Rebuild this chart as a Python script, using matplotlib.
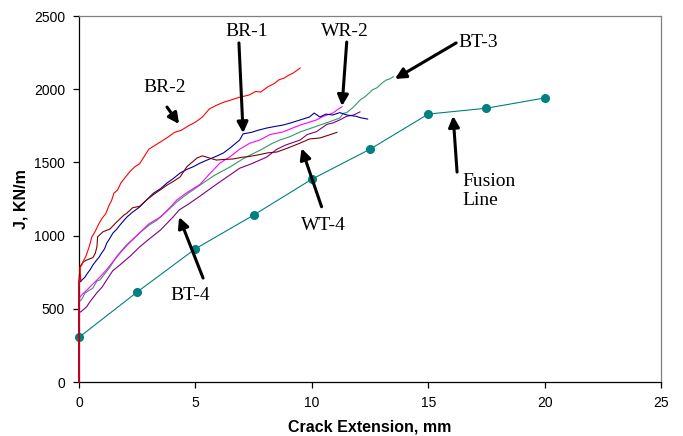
import matplotlib
matplotlib.use('Agg')
import matplotlib.pyplot as plt

# J-R curves, crack extension (mm) vs J (KN/m)
br2_x = [0, 0, 0.04, 0.08, 0.04, 0.12, 0.2, 0.3, 0.45, 0.55, 0.7, 0.85, 1.0, 1.15, 1.3, 1.4, 1.5, 1.65, 1.8,
         2.0, 2.2, 2.4, 2.6, 2.8, 3.0, 3.2, 3.5, 3.8, 4.1, 4.4, 4.7, 5.0, 5.3, 5.6, 5.9, 6.2, 6.5, 6.9, 7.3,
         7.6, 7.8, 8.1, 8.4, 8.6, 8.8, 9.0, 9.2, 9.5]
br2_j = [0, 650, 720, 690, 780, 800, 830, 860, 930, 990, 1030, 1080, 1120, 1150, 1210, 1240, 1290, 1310, 1360,
         1400, 1440, 1470, 1490, 1540, 1590, 1610, 1640, 1670, 1705, 1720, 1750, 1775, 1810, 1865, 1890, 1910,
         1925, 1945, 1960, 1985, 1980, 2015, 2040, 2065, 2075, 2095, 2110, 2145]

br1_x = [0, 0, 0.07, 0.15, 0.26, 0.35, 0.47, 0.6, 0.76, 0.85, 0.97, 1.1, 1.19, 1.3, 1.46, 1.6, 1.8, 2.06,
         2.3, 2.6, 2.9, 3.2, 3.5, 3.78, 4.05, 4.34, 4.6, 4.9, 5.2, 5.5, 5.8, 6.2, 6.5, 6.9, 7.05, 7.4, 7.7,
         8.07, 8.4, 8.76, 9.1, 9.5, 9.9, 10.1, 10.35, 10.6, 10.9, 11.2, 11.5, 11.9, 12.1, 12.4]
br1_j = [0, 690, 685, 700, 717, 740, 765, 800, 833, 850, 880, 910, 949, 975, 1018, 1040, 1080, 1127,
         1160, 1195, 1243, 1290, 1320, 1359, 1390, 1427, 1450, 1470, 1495, 1516, 1535, 1564, 1600, 1653, 1695,
         1705, 1720, 1735, 1745, 1755, 1770, 1790, 1810, 1837, 1810, 1830, 1824, 1840, 1824, 1815, 1805, 1796]

wt4_x = [0, 0, 0.05, 0.18, 0.33, 0.6, 0.7, 0.77, 0.8, 1.03, 1.33, 1.6, 1.93, 2.06, 2.3, 2.6, 2.9, 3.2,
         3.48, 3.78, 4.05, 4.34, 4.63, 4.85, 5.07, 5.3, 5.6, 5.9, 6.2, 6.6, 7.0, 7.3, 7.65, 8.1, 8.5, 9.0,
         9.5, 9.9, 10.35, 10.7, 11.08]
wt4_j = [0, 700, 790, 820, 833, 850, 880, 924, 992, 1026, 1045, 1090, 1140, 1154, 1190, 1200, 1243, 1280,
         1311, 1345, 1370, 1400, 1470, 1500, 1530, 1545, 1530, 1516, 1520, 1523, 1535, 1540, 1550, 1565, 1571,
         1600, 1632, 1660, 1667, 1685, 1705]

wr2_x = [0, 0, 0.04, 0.15, 0.34, 0.6, 0.9, 1.2, 1.5, 1.76, 2.1, 2.6, 3.0, 3.5, 3.9, 4.2, 4.6, 5.2, 5.6,
         6.05, 6.5, 6.9, 7.35, 7.77, 8.2, 8.76, 9.1, 9.5, 9.8, 10.2, 10.5, 10.9, 11.1, 11.3]
wr2_j = [0, 540, 580, 600, 628, 670, 717, 770, 830, 880, 940, 1018, 1080, 1127, 1190, 1243, 1290, 1350, 1420,
         1495, 1540, 1590, 1632, 1653, 1690, 1708, 1730, 1755, 1770, 1790, 1815, 1837, 1860, 1880]

bt3_x = [0, 0, 0.1, 0.26, 0.6, 0.77, 0.9, 1.33, 1.63, 2.0, 2.6, 3.0, 3.35, 3.8, 4.2, 4.7, 5.2, 5.8, 6.5,
         7.1, 7.8, 8.3, 8.63, 9.06, 9.5, 9.9, 10.35, 10.8, 11.2, 11.35, 11.5, 11.64, 11.8, 11.94, 12.1, 12.3,
         12.6, 12.8, 13.0, 13.2, 13.35, 13.5]
bt3_j = [0, 548, 560, 608, 642, 690, 697, 785, 860, 930, 1018, 1070, 1106, 1170, 1230, 1290, 1345, 1410, 1470,
         1530, 1585, 1630, 1653, 1676, 1708, 1730, 1755, 1780, 1803, 1835, 1840, 1858, 1880, 1903, 1930, 1950,
         1995, 2010, 2040, 2063, 2070, 2085]

bt4_x = [0, 0, 0.07, 0.33, 0.47, 0.76, 1.0, 1.19, 1.45, 1.68, 1.76, 2.2, 2.6, 3.0, 3.5, 4.04, 4.3, 4.7,
         5.2, 5.9, 6.6, 6.9, 7.4, 8.07, 8.5, 8.9, 9.5, 9.8, 10.2, 10.65, 10.9, 11.2, 11.5, 11.8, 12.07]
bt4_j = [0, 480, 478, 514, 548, 608, 650, 697, 760, 790, 800, 860, 922, 975, 1038, 1127, 1175, 1215,
         1270, 1350, 1427, 1460, 1490, 1537, 1590, 1620, 1653, 1690, 1710, 1760, 1769, 1790, 1815, 1824, 1845]

fusion_x = [0, 2.5, 5, 7.5, 10, 12.5, 15, 17.5, 20]
fusion_j = [305, 615, 910, 1140, 1385, 1590, 1830, 1870, 1940]

# label text, text position, arrow tail, arrow head
labels = ['BR-2', 'BR-1', 'WR-2', 'BT-3', 'Fusion\nLine', 'WT-4', 'BT-4']
label_pos = [(3.69, 2015), (7.2, 2393), (11.43, 2391), (16.3, 2316), (16.45, 1305), (10.48, 1072), (4.77, 594)]
arrow_tail = [(3.78, 1878), (6.87, 2316), (11.5, 2322), (16.2, 2316), (16.24, 1434), (10.42, 1197), (5.33, 710)]
arrow_head = [(4.30, 1762), (7.05, 1700), (11.3, 1885), (13.57, 2070), (16.07, 1817), (9.56, 1596), (4.3, 1127)]
label_ha = ['center', 'center', 'center', 'left', 'left', 'center', 'center']

fig = plt.figure(figsize=(6.83, 4.36), dpi=100)
ax = fig.add_axes([79/683, 1 - 382/436, (661-79)/683, (382-16)/436])

lw = 0.8
ax.plot(fusion_x, fusion_j, color='#008080', lw=lw, marker='o', ms=5.5, clip_on=False, zorder=3)
ax.plot(bt4_x, bt4_j, color='#800080', lw=lw, clip_on=False, zorder=3)
ax.plot(bt3_x, bt3_j, color='#339966', lw=lw, clip_on=False, zorder=3)
ax.plot(wr2_x, wr2_j, color='#FF00FF', lw=lw, clip_on=False, zorder=3)
ax.plot(br1_x, br1_j, color='#000099', lw=lw, clip_on=False, zorder=3)
ax.plot(wt4_x, wt4_j, color='#800000', lw=lw, clip_on=False, zorder=3)
ax.plot(br2_x, br2_j, color='#FF0000', lw=lw, clip_on=False, zorder=3)

for txt, pos, tail, head, ha in zip(labels, label_pos, arrow_tail, arrow_head, label_ha):
    ax.annotate('', xy=head, xytext=tail,
                arrowprops=dict(arrowstyle='-|>', color='black', lw=2.2, mutation_scale=16,
                                shrinkA=0, shrinkB=0))
    ax.text(pos[0], pos[1], txt, ha=ha, va='center', fontsize=14, family='Liberation Serif',
            linespacing=1.1)

ax.set_xlim(0, 25)
ax.set_ylim(0, 2500)
ax.set_xticks([0, 5, 10, 15, 20, 25])
ax.set_yticks([0, 500, 1000, 1500, 2000, 2500])
for s in ['top', 'right']:
    ax.spines[s].set_color('#808080')
for s in ['left', 'bottom']:
    ax.spines[s].set_color('black')
for s in ax.spines.values():
    s.set_linewidth(0.9)
ax.tick_params(direction='out', length=4, width=0.9, labelsize=10, pad=6)
for lab in ax.get_xticklabels() + ax.get_yticklabels():
    lab.set_family('Liberation Sans')

ax.set_xlabel('Crack Extension, mm', fontsize=11.5, fontweight='bold', family='Liberation Sans', labelpad=7)
ax.set_ylabel('J, KN/m', fontsize=11.5, fontweight='bold', family='Liberation Sans', labelpad=4)

fig.savefig('out.png', dpi=100)
